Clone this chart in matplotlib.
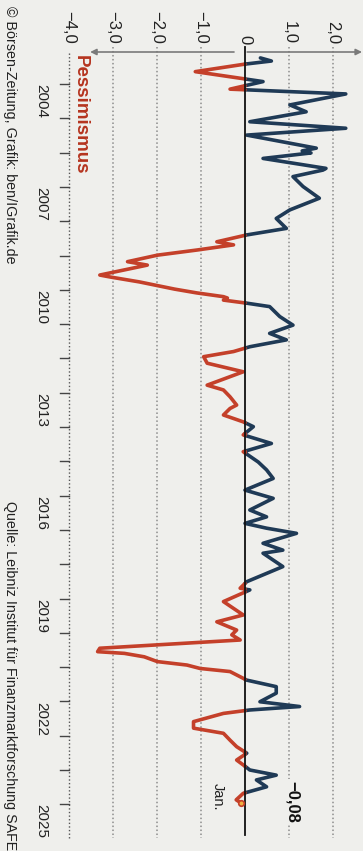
import numpy as np
import matplotlib.pyplot as plt

# sentiment index (decimal year, value)
years = [2003.24, 2003.33, 2003.42, 2003.64, 2003.93, 2004.15, 2004.29, 2004.61, 2004.81,
         2005.10, 2005.29, 2005.49, 2005.87, 2005.95, 2006.01, 2006.17, 2006.46, 2006.51,
         2006.70, 2006.99, 2007.33, 2007.67, 2007.92, 2008.21, 2008.40, 2008.60, 2008.69,
         2008.84, 2008.99, 2009.18, 2009.28, 2009.57, 2009.63, 2009.77, 2009.98, 2010.09,
         2010.20, 2010.24, 2010.30, 2010.39, 2010.49, 2010.78, 2011.03, 2011.27, 2011.46,
         2011.66, 2011.80, 2011.95, 2012.14, 2012.39, 2012.78, 2012.92, 2013.12, 2013.36,
         2013.46, 2013.65, 2013.85, 2013.99, 2014.23, 2014.48, 2014.72, 2015.02, 2015.25,
         2015.50, 2015.84, 2016.08, 2016.42, 2016.62, 2016.81, 2016.95, 2017.10, 2017.39,
         2017.59, 2017.68, 2018.07, 2018.51, 2018.70, 2018.75, 2019.09, 2019.48, 2019.68,
         2019.92, 2020.06, 2020.21, 2020.45, 2020.55, 2020.60, 2020.70, 2020.84, 2020.94,
         2021.04, 2021.13, 2021.38, 2021.57, 2021.76, 2022.01, 2022.15, 2022.25, 2022.35,
         2022.59, 2022.78, 2022.93, 2023.13, 2023.32, 2023.51, 2023.71, 2023.85, 2024.00,
         2024.15, 2024.29, 2024.49, 2024.68, 2024.87, 2024.97]
values = [0.35, 0.60, 0.00, -1.13, 0.41, -0.34, 2.29, 1.02, 1.39,
          0.11, 2.29, 0.04, 1.62, 1.30, 1.50, 0.41, 1.84, 1.77,
          1.09, 1.32, 1.69, 1.02, 0.71, 0.94, 0.04, -0.64, -0.26,
          -1.09, -1.99, -2.67, -2.22, -3.30, -3.05, -2.40, -1.60, -1.10,
          -0.49, -0.40, -0.49, 0.04, 0.56, 0.79, 1.09, 0.56, 0.94,
          0.11, -0.26, -0.94, -0.86, -0.04, -0.86, -0.49, -0.34, -0.19,
          -0.34, -0.49, -0.04, 0.19, -0.04, 0.60, -0.04, 0.30, 0.49,
          0.64, 0.00, 0.64, 0.11, 0.49, 0.00, 0.49, 1.17, 0.41,
          0.86, 0.41, 0.86, 0.04, -0.11, 0.11, -0.49, -0.04, -0.64,
          -0.19, -0.30, -0.11, -3.30, -3.35, -2.74, -2.29, -1.99, -1.32,
          -1.02, -0.34, 0.04, 0.71, 0.71, 0.34, 1.24, 0.11, -0.49,
          -1.17, -1.17, -0.49, -0.34, -0.19, 0.04, -0.19, -0.04, 0.11,
          0.71, 0.26, 0.49, -0.04, -0.20, -0.08]

year_ticks = list(range(2004, 2026))
year_labels = [2004, 2007, 2010, 2013, 2016, 2019, 2022, 2025]
value_ticks = [-4, -3, -2, -1, 0, 1, 2]
value_labels = ['−4,0', '−3,0', '−2,0', '−1,0', '0', '1,0', '2,0']
last_label = '−0,08'

bg = '#efefec'
blue = '#1f3a56'
red = '#c4402a'
font = ['Liberation Sans', 'DejaVu Sans']

# pixel -> data mapping (chart is turned by 90 degrees)
def ty(py):
    return 2004 + (py - 84) / 34.3

fig = plt.figure(figsize=(3.63, 8.51), dpi=100)
fig.patch.set_facecolor(bg)
ax = fig.add_axes([0, 0, 1, 1])
ax.set_facecolor(bg)
ax.set_xlim(-245 / 44, 118 / 44)
ax.set_ylim(ty(851), ty(0))
ax.axis('off')

# dotted gridlines
for v in [-3, -2, -1, 1, 2]:
    ax.plot([v, v], [ty(47), ty(838)], color='#8c8c8c', lw=1.1,
            linestyle=(0, (1, 1.6)), zorder=1)
# time axis
ax.plot([-4, -4], [ty(53), ty(840)], color='#555555', lw=1.0,
        linestyle=(0, (1, 1.6)), zorder=1)
for yr in year_ticks:
    ax.plot([-4.2, -4.0], [yr, yr], color='#444444', lw=1.0, zorder=1)
for yr in year_labels:
    ax.text(-4.62, yr + 0.5, str(yr), rotation=-90, ha='center', va='center',
            fontsize=11, family=font, color='#222222')

# value axis with arrows
ax.annotate('', xy=(-3.52, ty(52)), xytext=(-0.25, ty(52)),
            arrowprops=dict(arrowstyle='-|>', color='#7a7a7a', lw=1.2,
                            mutation_scale=9, shrinkA=0, shrinkB=0))
ax.annotate('', xy=(2.66, ty(52)), xytext=(0.05, ty(52)),
            arrowprops=dict(arrowstyle='-|>', color='#7a7a7a', lw=1.2,
                            mutation_scale=9, shrinkA=0, shrinkB=0))
for v, lab in zip(value_ticks, value_labels):
    ax.text(v, ty(44), lab, rotation=-90, ha='center', va='bottom',
            fontsize=12, family=font, color='#222222')

# zero line
ax.plot([0, 0], [ty(47), ty(835)], color='#111111', lw=1.3, zorder=4)

# series coloured by sign
t = np.array(years)
v = np.array(values)
tt = [t[0]]
vv = [v[0]]
for i in range(1, len(t)):
    if v[i - 1] * v[i] < 0:
        tc = t[i - 1] + (t[i] - t[i - 1]) * v[i - 1] / (v[i - 1] - v[i])
        tt.append(tc)
        vv.append(0.0)
    tt.append(t[i])
    vv.append(v[i])
tt = np.array(tt)
vv = np.array(vv)
pos = np.where(vv >= 0, vv, np.nan)
neg = np.where(vv <= 0, vv, np.nan)
ax.plot(pos, tt, color=blue, lw=2.6, solid_joinstyle='round',
        solid_capstyle='round', zorder=3)
ax.plot(neg, tt, color=red, lw=2.6, solid_joinstyle='round',
        solid_capstyle='round', zorder=3)
ax.plot(v[-1], t[-1], 'o', ms=4, mfc='#f0b040', mec=red, mew=1.2, zorder=5)

# annotations
ax.text(1.08, t[-1] - 0.05, last_label, rotation=-90, ha='center', va='center',
        fontsize=12, fontweight='bold', family=font, color='#111111',
        bbox=dict(boxstyle='square,pad=0.1', fc=bg, ec='none'), zorder=6)
ax.text(-0.62, t[-1] - 0.2, 'Jan.', rotation=-90, ha='center', va='center',
        fontsize=10.5, family=font, color='#222222', zorder=6)
ax.text(-3.75, ty(115), 'Pessimismus', rotation=-90, ha='center', va='center',
        fontsize=13.5, fontweight='bold', family=font, color='#b5341f')

# footer
ax.text(-5.35, ty(6), '© Börsen-Zeitung, Grafik: ben/IGrafik.de', rotation=-90,
        ha='center', va='top', fontsize=10.3, family=font, color='#222222')
ax.text(-5.35, ty(850), 'Quelle: Leibniz Institut für Finanzmarktforschung SAFE',
        rotation=-90, ha='center', va='bottom', fontsize=10.3, family=font,
        color='#222222')

fig.savefig('out.png', dpi=100, facecolor=bg)
